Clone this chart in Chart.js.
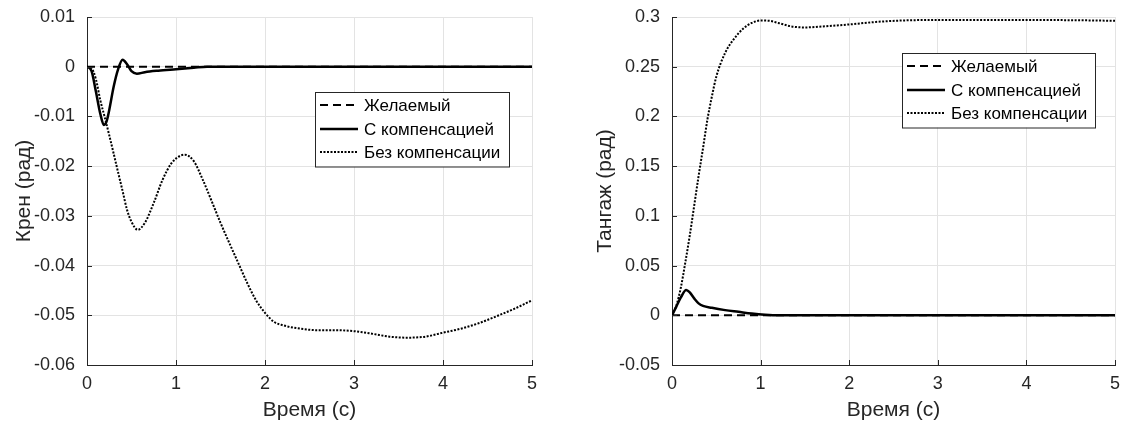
<!DOCTYPE html>
<html>
<head>
<meta charset="utf-8">
<title>Крен и тангаж</title>
<script src="https://cdn.jsdelivr.net/npm/chart.js@4.4.0/dist/chart.umd.min.js"></script>
<style>
  body { margin: 0; background: #fff; }
  .panel { position: absolute; top: 0; height: 429px; }
</style>
</head>
<body>
<div class="panel" style="left:0;width:565px"><canvas id="rollChart"></canvas></div>
<div class="panel" style="left:565px;width:566px"><canvas id="pitchChart"></canvas></div>

<script>
// time axis (s)
var timeTicks = [0, 1, 2, 3, 4, 5];
var desiredTime = [0, 5];
var desiredValues = [0, 0];

// roll (rad)
var rollCompTime = [0, 0.05, 0.1, 0.15, 0.19, 0.22, 0.25, 0.3, 0.35, 0.4, 0.45, 0.5, 0.56, 0.65, 0.8, 1.0, 1.2, 1.35, 5];
var rollComp = [0, -0.0008, -0.005, -0.0095, -0.0117, -0.011, -0.0087, -0.004, -0.0005, 0.0014, 0.0005, -0.0009, -0.0014, -0.0011, -0.0008, -0.0005, -0.0002, 0, 0];
var rollNoCompTime = [0, 0.05, 0.1, 0.15, 0.2, 0.25, 0.3, 0.35, 0.4, 0.45, 0.5, 0.57, 0.65, 0.75, 0.85, 0.95, 1.05, 1.1, 1.2, 1.3, 1.4, 1.5, 1.6, 1.7, 1.8, 1.9, 2.0, 2.1, 2.2, 2.4, 2.6, 2.8, 3.0, 3.2, 3.4, 3.6, 3.8, 4.0, 4.2, 4.4, 4.6, 4.8, 5.0];
var rollNoComp = [0, -0.0003, -0.0025, -0.0068, -0.0102, -0.0138, -0.0175, -0.0213, -0.025, -0.0288, -0.0312, -0.0328, -0.0314, -0.0274, -0.0227, -0.0194, -0.0179, -0.0177, -0.019, -0.0227, -0.027, -0.0314, -0.0355, -0.0395, -0.0435, -0.047, -0.0495, -0.0513, -0.052, -0.0527, -0.053, -0.053, -0.0532, -0.0537, -0.0543, -0.0545, -0.0543, -0.0535, -0.0527, -0.0516, -0.0502, -0.0487, -0.047];
var rollTicks = [0.01, 0, -0.01, -0.02, -0.03, -0.04, -0.05, -0.06];

// pitch (rad)
var pitchCompTime = [0, 0.05, 0.1, 0.16, 0.2, 0.25, 0.3, 0.35, 0.45, 0.6, 0.75, 0.9, 1.05, 1.2, 5];
var pitchComp = [0, 0.009, 0.018, 0.0255, 0.023, 0.017, 0.012, 0.0095, 0.0075, 0.0052, 0.0035, 0.0018, 0.0006, 0, 0];
var pitchNoCompTime = [0, 0.05, 0.1, 0.15, 0.2, 0.25, 0.3, 0.35, 0.4, 0.45, 0.5, 0.6, 0.7, 0.8, 0.9, 1.0, 1.1, 1.2, 1.35, 1.5, 1.7, 2.0, 2.3, 2.6, 3.0, 3.5, 4.0, 4.5, 5.0];
var pitchNoComp = [0, 0.01, 0.028, 0.053, 0.08, 0.11, 0.14, 0.168, 0.197, 0.22, 0.24, 0.264, 0.278, 0.288, 0.294, 0.2965, 0.2962, 0.294, 0.2905, 0.2895, 0.2905, 0.2925, 0.295, 0.2965, 0.297, 0.297, 0.297, 0.2968, 0.2962];
var pitchTicks = [0.3, 0.25, 0.2, 0.15, 0.1, 0.05, 0, -0.05];

var seriesLabels = ['Желаемый', 'С компенсацией', 'Без компенсации'];

var textColor = '#262626';
var gridColor = '#e3e3e3';
var tickFont = { family: '"Liberation Sans", Arial, sans-serif', size: 18 };
var titleFont = { family: '"Liberation Sans", Arial, sans-serif', size: 21 };

function pts(xs, ys) {
  return xs.map(function (t, i) { return { x: t, y: ys[i] }; });
}

// MATLAB-style ticks pointing into the plot
var inwardTicks = {
  id: 'inwardTicks',
  afterDatasetsDraw: function (chart) {
    var ctx = chart.ctx, a = chart.chartArea, x = chart.scales.x, y = chart.scales.y;
    ctx.save();
    ctx.strokeStyle = textColor;
    ctx.lineWidth = 1;
    ctx.beginPath();
    x.ticks.forEach(function (t) {
      var p = Math.round(x.getPixelForValue(t.value)) + 0.5;
      ctx.moveTo(p, a.bottom); ctx.lineTo(p, a.bottom - 5);
    });
    y.ticks.forEach(function (t) {
      var p = Math.round(y.getPixelForValue(t.value)) + 0.5;
      ctx.moveTo(a.left, p); ctx.lineTo(a.left + 5, p);
    });
    ctx.stroke();
    ctx.restore();
  }
};

// boxed legend inside the axes
var boxLegend = {
  id: 'boxLegend',
  afterDatasetsDraw: function (chart, args, opts) {
    var ctx = chart.ctx, a = chart.chartArea;
    var left = Math.round(a.left + opts.dx), top = Math.round(a.top + opts.dy);
    var rowH = 23.5, n = chart.data.datasets.length;
    var h = rowH * n + 4;
    ctx.save();
    ctx.fillStyle = '#fff';
    ctx.fillRect(left, top, opts.width, h);
    ctx.strokeStyle = textColor;
    ctx.lineWidth = 1;
    ctx.strokeRect(left + 0.5, top + 0.5, opts.width, h);
    ctx.font = '17px "Liberation Sans", Arial, sans-serif';
    ctx.textBaseline = 'middle';
    chart.data.datasets.forEach(function (ds, i) {
      var cy = Math.round(top + 13 + i * rowH);
      ctx.strokeStyle = ds.borderColor;
      ctx.lineWidth = ds.borderWidth;
      ctx.setLineDash(ds.borderDash || []);
      ctx.beginPath();
      ctx.moveTo(left + 5, cy);
      ctx.lineTo(left + 43, cy);
      ctx.stroke();
      ctx.setLineDash([]);
      ctx.fillStyle = '#000';
      ctx.fillText(ds.label, left + 49, cy + 1);
    });
    ctx.restore();
  }
};

function makeChart(id, cfg) {
  var fmt = function (v) { return String(+Number(v).toFixed(3)); };
  return new Chart(document.getElementById(id), {
    type: 'line',
    data: {
      datasets: [
        { label: seriesLabels[0], data: pts(desiredTime, desiredValues), borderColor: '#000', borderWidth: 2, borderDash: [8, 5] },
        { label: seriesLabels[1], data: pts(cfg.compTime, cfg.comp), borderColor: '#000', borderWidth: 2.5 },
        { label: seriesLabels[2], data: pts(cfg.noCompTime, cfg.noComp), borderColor: '#000', borderWidth: 2, borderDash: [2, 1.5] }
      ]
    },
    options: {
      responsive: true,
      maintainAspectRatio: false,
      animation: false,
      layout: { padding: { left: 0, top: 17, right: cfg.padRight, bottom: 0 } },
      elements: {
        point: { radius: 0 },
        line: { cubicInterpolationMode: 'monotone', fill: false }
      },
      plugins: {
        legend: { display: false },
        tooltip: { enabled: false },
        boxLegend: cfg.legend
      },
      scales: {
        x: {
          type: 'linear',
          min: 0, max: 5,
          afterFit: function (s) { s.height = 64; s.paddingLeft = 0; s.paddingRight = 0; },
          afterBuildTicks: function (s) { s.ticks = timeTicks.map(function (v) { return { value: v }; }); },
          grid: { color: gridColor, drawTicks: false },
          border: { color: textColor },
          ticks: { color: textColor, font: tickFont, padding: 8, autoSkip: false, maxRotation: 0, callback: fmt },
          title: { display: true, text: 'Время (с)', color: textColor, font: titleFont, padding: { top: 2, bottom: 6 } }
        },
        y: {
          min: cfg.yMin, max: cfg.yMax,
          afterFit: function (s) { s.width = cfg.yWidth; s.paddingTop = 0; s.paddingBottom = 0; },
          afterBuildTicks: function (s) { s.ticks = cfg.yTicks.map(function (v) { return { value: v }; }); },
          grid: { color: gridColor, drawTicks: false },
          border: { color: textColor },
          ticks: { color: textColor, font: tickFont, padding: 12, autoSkip: false, callback: fmt },
          title: { display: true, text: cfg.yTitle, color: textColor, font: titleFont, padding: { top: cfg.yTitlePad, bottom: 0 } }
        }
      }
    },
    plugins: [inwardTicks, boxLegend]
  });
}

makeChart('rollChart', {
  compTime: rollCompTime, comp: rollComp,
  noCompTime: rollNoCompTime, noComp: rollNoComp,
  yMin: -0.06, yMax: 0.01, yTicks: rollTicks,
  yTitle: 'Крен (рад)', yWidth: 87, yTitlePad: 12, padRight: 33,
  legend: { dx: 228, dy: 75, width: 194 }
});

makeChart('pitchChart', {
  compTime: pitchCompTime, comp: pitchComp,
  noCompTime: pitchNoCompTime, noComp: pitchNoComp,
  yMin: -0.05, yMax: 0.3, yTicks: pitchTicks,
  yTitle: 'Тангаж (рад)', yWidth: 107, yTitlePad: 28, padRight: 16,
  legend: { dx: 230, dy: 36, width: 193 }
});
</script>
</body>
</html>
